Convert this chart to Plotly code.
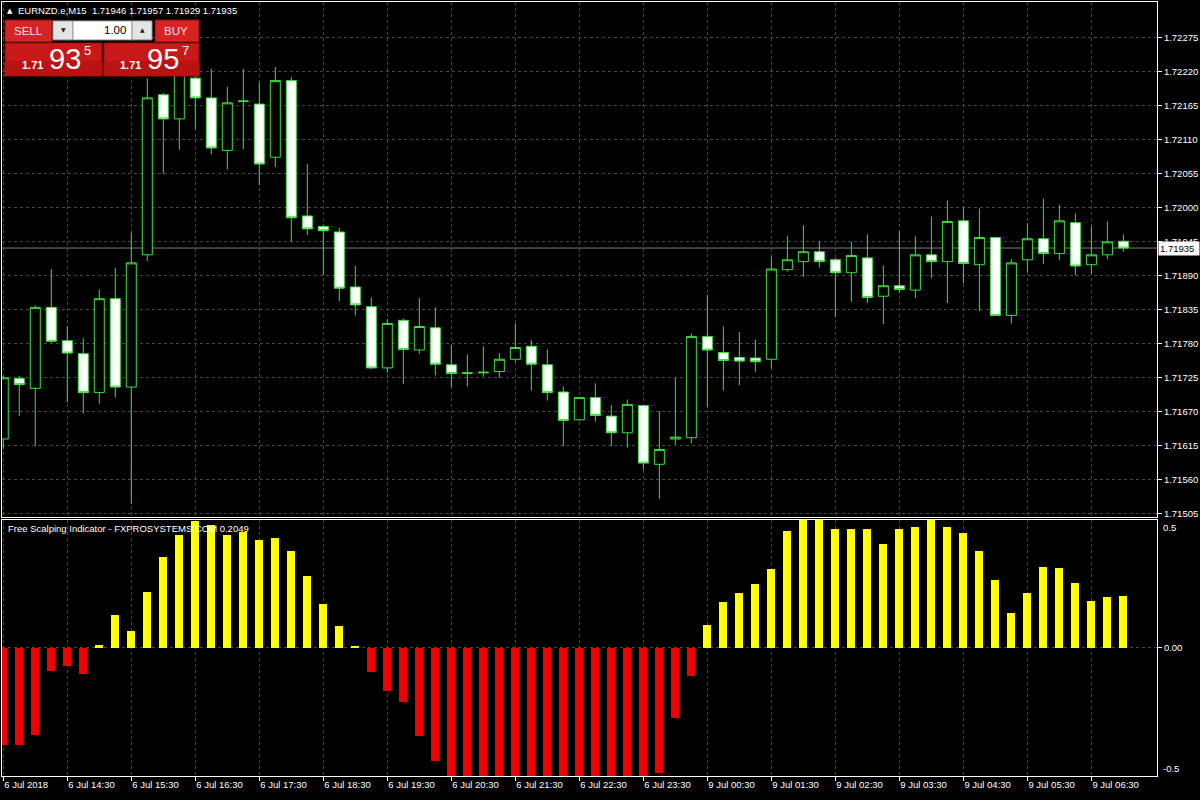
import plotly.graph_objects as go
import pandas as pd

# ---------------- data ----------------
times = list(pd.date_range('2018-07-06 13:30', '2018-07-06 23:45', freq='15min')) + \
        list(pd.date_range('2018-07-09 00:00', '2018-07-09 07:00', freq='15min'))
cats = [t.strftime('%d %b %H:%M') for t in times]

open_ = [1.71626, 1.71724, 1.71708, 1.71839, 1.71785, 1.71764, 1.71701, 1.71853, 1.71710, 1.71924,
         1.72183, 1.72144, 1.72210, 1.72178, 1.72093, 1.72172, 1.72168, 1.72082, 1.72206, 1.71987,
         1.71970, 1.71961, 1.71872, 1.71840, 1.71741, 1.71818, 1.71770, 1.71806, 1.71746, 1.71732,
         1.71733, 1.71735, 1.71755, 1.71776, 1.71746, 1.71702, 1.71657, 1.71693, 1.71663, 1.71636,
         1.71680, 1.71585, 1.71626, 1.71628, 1.71792, 1.71766, 1.71758, 1.71757, 1.71755, 1.71900,
         1.71913, 1.71929, 1.71916, 1.71895, 1.71919, 1.71857, 1.71874, 1.71867, 1.71924, 1.71913,
         1.71979, 1.71908, 1.71952, 1.71826, 1.71916, 1.71950, 1.71926, 1.71976, 1.71908, 1.71924,
         1.71946]
high = [1.71728, 1.71728, 1.71842, 1.71901, 1.71809, 1.71789, 1.71868, 1.71903, 1.71960, 1.72210,
        1.72186, 1.72227, 1.72225, 1.72225, 1.72196, 1.72225, 1.72203, 1.72228, 1.72212, 1.72071,
        1.71972, 1.71968, 1.71906, 1.71855, 1.71820, 1.71821, 1.71854, 1.71839, 1.71778, 1.71763,
        1.71776, 1.71765, 1.71813, 1.71786, 1.71771, 1.71711, 1.71694, 1.71716, 1.71681, 1.71690,
        1.71681, 1.71671, 1.71725, 1.71797, 1.71859, 1.71808, 1.71799, 1.71787, 1.71921, 1.71955,
        1.71972, 1.71946, 1.71919, 1.71945, 1.71957, 1.71907, 1.71963, 1.71954, 1.71986, 1.72012,
        1.72001, 1.71999, 1.71953, 1.71917, 1.71975, 1.72015, 1.72005, 1.71991, 1.71970, 1.71978,
        1.71957]
low = [1.71610, 1.71663, 1.71614, 1.71782, 1.71685, 1.71667, 1.71683, 1.71693, 1.71521, 1.71914,
       1.72055, 1.72094, 1.72128, 1.72087, 1.72062, 1.72095, 1.72037, 1.72066, 1.71945, 1.71956,
       1.71891, 1.71849, 1.71826, 1.71739, 1.71733, 1.71715, 1.71764, 1.71729, 1.71710, 1.71711,
       1.71727, 1.71725, 1.71751, 1.71704, 1.71688, 1.71614, 1.71656, 1.71654, 1.71614, 1.71612,
       1.71576, 1.71529, 1.71617, 1.71619, 1.71677, 1.71704, 1.71713, 1.71735, 1.71740, 1.71897,
       1.71888, 1.71904, 1.71824, 1.71848, 1.71846, 1.71812, 1.71863, 1.71854, 1.71886, 1.71846,
       1.71878, 1.71833, 1.71826, 1.71813, 1.71896, 1.71909, 1.71915, 1.71891, 1.71893, 1.71917,
       1.71929]
close = [1.71725, 1.71714, 1.71839, 1.71784, 1.71765, 1.71701, 1.71853, 1.71710, 1.71911, 1.72178,
         1.72144, 1.72220, 1.72178, 1.72097, 1.72170, 1.72173, 1.72071, 1.72206, 1.71984, 1.71966,
         1.71963, 1.71870, 1.71843, 1.71741, 1.71813, 1.71771, 1.71808, 1.71747, 1.71732, 1.71733,
         1.71734, 1.71755, 1.71774, 1.71747, 1.71701, 1.71656, 1.71693, 1.71664, 1.71636, 1.71682,
         1.71587, 1.71609, 1.71629, 1.71792, 1.71770, 1.71753, 1.71752, 1.71751, 1.71901, 1.71916,
         1.71929, 1.71913, 1.71895, 1.71923, 1.71855, 1.71874, 1.71868, 1.71924, 1.71913, 1.71978,
         1.71910, 1.71952, 1.71826, 1.71911, 1.71950, 1.71926, 1.71979, 1.71906, 1.71924, 1.71945,
         1.71935]

indicator = [-0.378, -0.378, -0.337, -0.090, -0.071, -0.102, 0.014, 0.130, 0.068, 0.220,
             0.356, 0.443, 0.497, 0.481, 0.443, 0.452, 0.422, 0.430, 0.378, 0.282,
             0.173, 0.086, 0.009, -0.093, -0.168, -0.208, -0.343, -0.440,
             -0.5, -0.5, -0.5, -0.5, -0.5, -0.5, -0.5, -0.5, -0.5, -0.5, -0.5, -0.5, -0.5,
             -0.488, -0.274, -0.107,
             0.091, 0.181, 0.216, 0.251, 0.309, 0.457, 0.5, 0.5, 0.465, 0.465,
             0.465, 0.407, 0.465, 0.473, 0.5, 0.473, 0.449, 0.379, 0.267, 0.138,
             0.216, 0.317, 0.313, 0.255, 0.185, 0.200, 0.2049]

tick_labels = ["6 Jul 2018", "6 Jul 14:30", "6 Jul 15:30", "6 Jul 16:30", "6 Jul 17:30",
               "6 Jul 18:30", "6 Jul 19:30", "6 Jul 20:30", "6 Jul 21:30", "6 Jul 22:30",
               "6 Jul 23:30", "9 Jul 00:30", "9 Jul 01:30", "9 Jul 02:30", "9 Jul 03:30",
               "9 Jul 04:30", "9 Jul 05:30", "9 Jul 06:30"]
price_ticks = [1.71505, 1.71560, 1.71615, 1.71670, 1.71725, 1.71780, 1.71835, 1.71890,
               1.71945, 1.72000, 1.72055, 1.72110, 1.72165, 1.72220, 1.72275]
symbol = "EURNZD.e,M15"
bid, ask = 1.71935, 1.71957
indicator_name = "Free Scalping Indicator - FXPROSYSTEMS.COM"

# ---------------- styling ----------------
W, H = 1200, 800
FONT = "Liberation Sans"
LIME = "#3ee03e"
GRID = "#474747"


def px(x):
    return x / W


def py(y):
    return 1 - y / H


fig = go.Figure()

fig.add_trace(go.Candlestick(
    x=cats, open=open_, high=high, low=low, close=close,
    increasing=dict(fillcolor="#000000", line=dict(color=LIME, width=1)),
    decreasing=dict(fillcolor="#ffffff", line=dict(color=LIME, width=1)),
    whiskerwidth=0, xaxis="x", yaxis="y", showlegend=False, hoverinfo="skip"))

fig.add_trace(go.Bar(
    x=cats, y=indicator, width=0.5,
    marker=dict(color=["#ffff00" if v >= 0 else "#f00000" for v in indicator], line=dict(width=0)),
    xaxis="x2", yaxis="y2", showlegend=False, hoverinfo="skip"))

axis_common = dict(
    type="category", range=[-0.08, 72.1], domain=[px(2), px(1157)],
    showgrid=True, gridcolor=GRID, griddash="3px,3px", gridwidth=1,
    tickvals=cats[::4], showline=True, linecolor="#ffffff", linewidth=1, mirror=True,
    zeroline=False, fixedrange=True)

fig.update_layout(
    width=W, height=H, autosize=False,
    margin=dict(l=0, r=0, t=0, b=0),
    paper_bgcolor="#000000", plot_bgcolor="#000000",
    font=dict(family=FONT, size=10, color="#ffffff"),
    boxgap=0.375, boxgroupgap=0, bargap=0,
    xaxis=dict(**axis_common, anchor="y", showticklabels=False, ticks="",
               rangeslider=dict(visible=False)),
    xaxis2=dict(**axis_common, anchor="y2", matches="x", showticklabels=True,
                ticktext=tick_labels, ticks="outside", ticklen=4, tickcolor="#ffffff",
                ticklabelposition="outside right",
                tickfont=dict(family=FONT, size=9.5, color="#ffffff")),
    yaxis=dict(domain=[py(518), py(2)], range=[1.715002, 1.723332], side="right",
               tickvals=price_ticks, tickformat=".5f", ticks="outside", ticklen=4,
               tickcolor="#ffffff", tickfont=dict(family=FONT, size=9.5, color="#ffffff"),
               showgrid=True, gridcolor=GRID, griddash="3px,3px", zeroline=False,
               showline=True, linecolor="#ffffff", mirror=True, anchor="x", fixedrange=True),
    yaxis2=dict(domain=[py(778), py(521)], range=[-0.5, 0.5], side="right",
                tickvals=[0], ticktext=["0.00"], ticks="outside", ticklen=4,
                tickcolor="#ffffff", tickfont=dict(family=FONT, size=9.5, color="#ffffff"),
                showgrid=True, gridcolor=GRID, griddash="3px,3px", zeroline=False,
                showline=True, linecolor="#ffffff", mirror=True, anchor="x2", fixedrange=True),
)

shapes = []
annotations = []

# current bid line + label
shapes.append(dict(type="line", xref="paper", yref="y", x0=px(2), x1=px(1157), y0=bid, y1=bid,
                   line=dict(color="#7a7a7a", width=1), layer="below"))
annotations.append(dict(xref="paper", yref="y", x=px(1158), y=bid, xanchor="left", yanchor="middle",
                        text=f"{bid:.5f}", showarrow=False, bgcolor="#ffffff", borderpad=1,
                        font=dict(family=FONT, size=9.5, color="#000000"), width=38, align="left"))

# indicator axis end labels
annotations.append(dict(xref="paper", yref="y2", x=px(1161), y=0.5, xanchor="left", yanchor="top",
                        text="0.5", showarrow=False, font=dict(family=FONT, size=9.5, color="#ffffff")))
annotations.append(dict(xref="paper", yref="y2", x=px(1161), y=-0.5, xanchor="left", yanchor="bottom",
                        text="-0.5", showarrow=False, font=dict(family=FONT, size=9.5, color="#ffffff")))

# header
annotations.append(dict(xref="paper", yref="paper", x=px(5), y=py(11), xanchor="left", yanchor="middle",
                        text="▲", showarrow=False, font=dict(family="DejaVu Sans", size=7, color="#ffffff")))
annotations.append(dict(xref="paper", yref="paper", x=px(16), y=py(11), xanchor="left", yanchor="middle",
                        text=f"{symbol}  {open_[-1]:.5f} {high[-1]:.5f} {low[-1]:.5f} {close[-1]:.5f}",
                        showarrow=False, font=dict(family=FONT, size=9.5, color="#ffffff")))

# indicator name
annotations.append(dict(xref="paper", yref="paper", x=px(6), y=py(530), xanchor="left", yanchor="middle",
                        text=f"{indicator_name} {indicator[-1]:.4f}", showarrow=False,
                        font=dict(family=FONT, size=9.5, color="#ffffff")))


# one-click trading panel
def rect(x0, y0, x1, y1, fill, line="#8a0c0c"):
    shapes.append(dict(type="rect", xref="paper", yref="paper", x0=px(x0), x1=px(x1), y0=py(y1), y1=py(y0),
                       fillcolor=fill, line=dict(color=line, width=1), layer="above"))


def text(x, y, s, size, color="#ffffff", xanchor="center", family=FONT, bold=False):
    if bold:
        s = f"<b>{s}</b>"
    annotations.append(dict(xref="paper", yref="paper", x=px(x), y=py(y), xanchor=xanchor, yanchor="middle",
                            text=s, showarrow=False, font=dict(family=family, size=size, color=color)))


rect(5, 20, 52, 42, "#d42424")
rect(155, 20, 199, 42, "#d42424")
rect(5, 43, 102, 76, "#c81818")
rect(104, 43, 199, 76, "#c81818")
rect(5, 62, 102, 76, "#b91212", line="#b91212")
rect(104, 62, 199, 76, "#b91212", line="#b91212")
rect(53, 21, 73, 40, "#e4e4e4", line="#9a9a9a")
rect(73, 21, 132, 40, "#ffffff", line="#9a9a9a")
rect(132, 21, 152, 40, "#e4e4e4", line="#9a9a9a")

text(28, 31, "SELL", 11.5, color="#f7e0e0")
text(176, 31, "BUY", 11.5, color="#f7e0e0")
text(63, 30, "▼", 6, color="#202020", family="DejaVu Sans")
text(142, 30, "▲", 6, color="#202020", family="DejaVu Sans")
text(128, 30, "1.00", 11.5, color="#000000", xanchor="right")

bid_s, ask_s = f"{bid:.5f}", f"{ask:.5f}"
text(20, 65, bid_s[:4], 11, xanchor="left", bold=True)
text(47, 59, bid_s[4:6], 29, xanchor="left")
text(82, 51, bid_s[6], 13, xanchor="left")
text(118, 65, ask_s[:4], 11, xanchor="left", bold=True)
text(145, 59, ask_s[4:6], 29, xanchor="left")
text(180, 51, ask_s[6], 13, xanchor="left")

fig.update_layout(shapes=shapes, annotations=annotations)

fig.write_html("out.html", config={"displayModeBar": False},
               post_script="document.body.style.margin='0px';document.body.style.overflow='hidden';")
